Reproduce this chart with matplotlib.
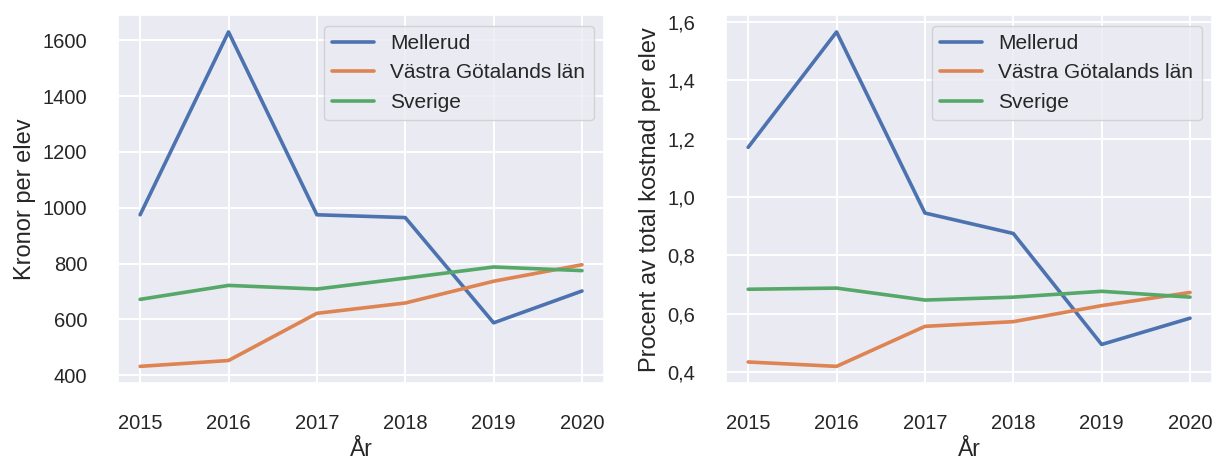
import matplotlib
matplotlib.use("Agg")
import matplotlib.pyplot as plt
import seaborn as sns
from matplotlib.ticker import FuncFormatter

years = [2015, 2016, 2017, 2018, 2019, 2020]
labels = ["Mellerud", "Västra Götalands län", "Sverige"]

# Kronor per elev
kronor_mellerud = [975, 1630, 975, 965, 588, 702]
kronor_vgl = [432, 453, 622, 659, 737, 796]
kronor_sverige = [672, 722, 709, 748, 788, 775]

# Procent av total kostnad per elev
procent_mellerud = [1.17, 1.565, 0.945, 0.875, 0.495, 0.585]
procent_vgl = [0.435, 0.42, 0.557, 0.573, 0.628, 0.673]
procent_sverige = [0.684, 0.688, 0.647, 0.657, 0.677, 0.657]


def draw_panel(ax, series, ylabel):
    for values, label in zip(series, labels):
        ax.plot(years, values, label=label, linewidth=2.6)
    ax.set_xlabel("År", fontsize=16.5, labelpad=4)
    ax.set_ylabel(ylabel, fontsize=17, labelpad=5)
    ax.set_xticks(years)
    ax.tick_params(axis="x", labelsize=14.5, pad=16)
    ax.tick_params(axis="y", labelsize=14.5, pad=16)
    ax.grid(linewidth=1.4)
    ax.legend(loc="upper right", fontsize=15)


def main():
    sns.set_theme(style="darkgrid")
    plt.rcParams["font.family"] = ["Liberation Sans", "DejaVu Sans"]

    fig, (ax1, ax2) = plt.subplots(1, 2, figsize=(12.17, 4.61), dpi=100)
    fig.subplots_adjust(left=0.097, right=0.996, top=0.967, bottom=0.169, wspace=0.251)

    draw_panel(ax1, [kronor_mellerud, kronor_vgl, kronor_sverige], "Kronor per elev")
    draw_panel(ax2, [procent_mellerud, procent_vgl, procent_sverige],
               "Procent av total kostnad per elev")
    ax2.yaxis.set_major_formatter(FuncFormatter(lambda v, p: f"{v:.1f}".replace(".", ",")))

    fig.savefig("out.png", dpi=100)


if __name__ == "__main__":
    main()
